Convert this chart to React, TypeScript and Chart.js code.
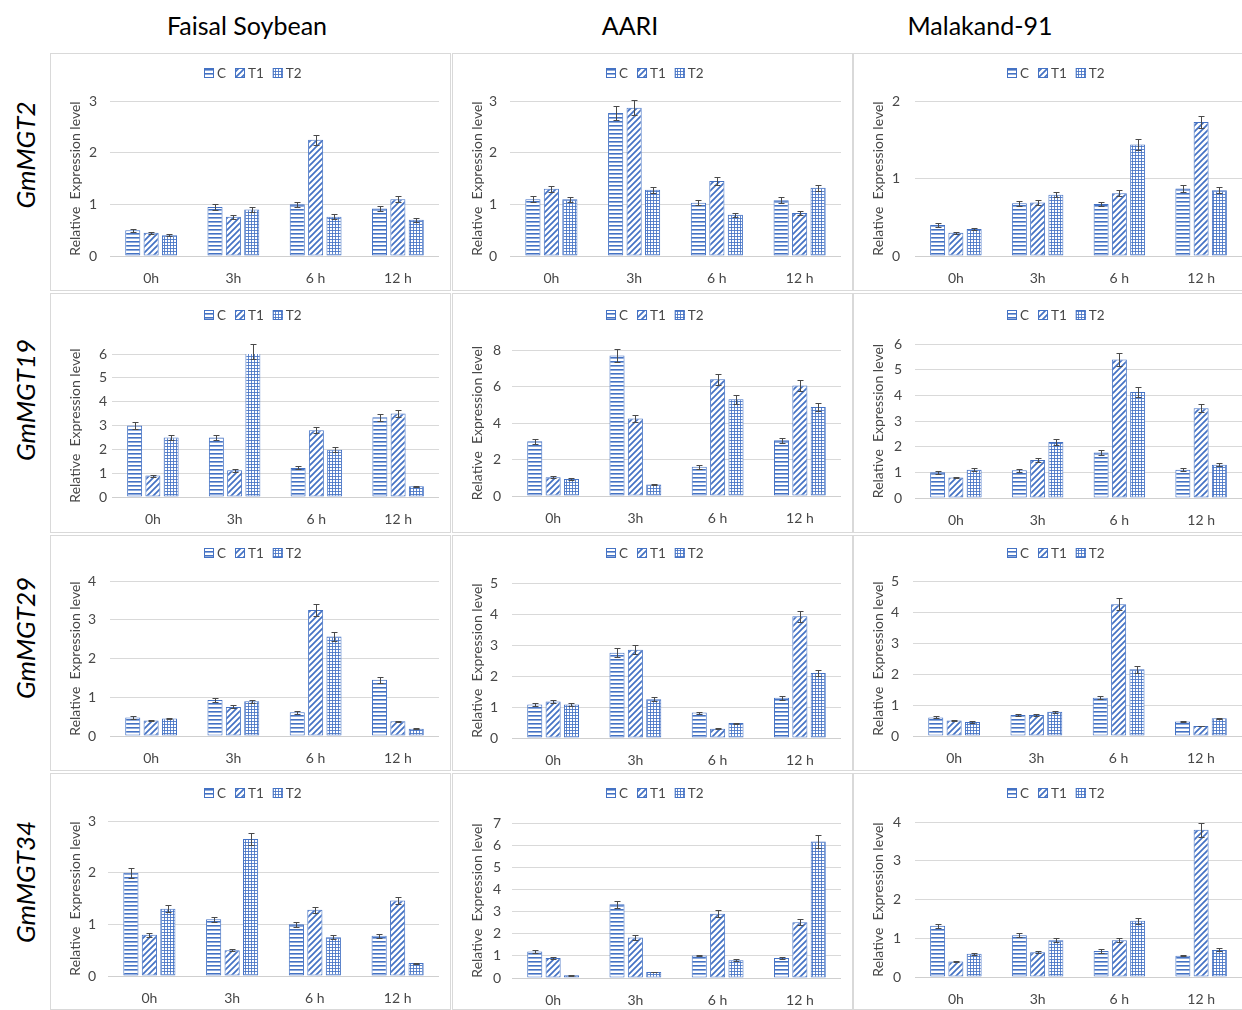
import React, { useEffect, useRef } from "react";
import { Chart, registerables } from "chart.js";
Chart.register(...registerables);

const cultivars = ["Faisal Soybean", "AARI", "Malakand-91"];
const genes = ["GmMGT2", "GmMGT19", "GmMGT29", "GmMGT34"];
const seriesNames = ["C", "T1", "T2"];
const timeLabels = ["0h", "3h", "6 h", "12 h"];
const yAxisTitle = "Relative  Expression level";

// values: [C, T1, T2] per time point
const mgt2FaisalValues = [[0.5, 0.95, 1.0, 0.92], [0.45, 0.76, 2.25, 1.1], [0.4, 0.9, 0.76, 0.7]];
const mgt2FaisalErrors = [[0.03, 0.05, 0.05, 0.04], [0.02, 0.04, 0.1, 0.06], [0.02, 0.05, 0.05, 0.04]];
const mgt2AariValues = [[1.1, 2.77, 1.03, 1.08], [1.3, 2.87, 1.45, 0.83], [1.1, 1.28, 0.8, 1.32]];
const mgt2AariErrors = [[0.06, 0.14, 0.05, 0.06], [0.06, 0.14, 0.07, 0.04], [0.05, 0.06, 0.04, 0.06]];
const mgt2MalakandValues = [[0.4, 0.68, 0.67, 0.87], [0.3, 0.69, 0.81, 1.73], [0.35, 0.79, 1.44, 0.85]];
const mgt2MalakandErrors = [[0.02, 0.03, 0.03, 0.04], [0.01, 0.03, 0.04, 0.08], [0.01, 0.03, 0.07, 0.04]];

const mgt19FaisalValues = [[3.0, 2.5, 1.22, 3.35], [0.9, 1.12, 2.8, 3.5], [2.5, 6.1, 1.98, 0.45]];
const mgt19FaisalErrors = [[0.15, 0.12, 0.06, 0.15], [0.04, 0.06, 0.12, 0.15], [0.12, 0.3, 0.1, 0.03]];
const mgt19AariValues = [[3.0, 7.7, 1.6, 3.05], [1.03, 4.25, 6.4, 6.05], [0.93, 0.63, 5.3, 4.88]];
const mgt19AariErrors = [[0.15, 0.35, 0.1, 0.15], [0.04, 0.2, 0.3, 0.3], [0.04, 0.03, 0.25, 0.2]];
const mgt19MalakandValues = [[1.0, 1.08, 1.77, 1.1], [0.8, 1.48, 5.4, 3.5], [1.1, 2.18, 4.13, 1.3]];
const mgt19MalakandErrors = [[0.05, 0.06, 0.1, 0.05], [0.03, 0.08, 0.25, 0.15], [0.06, 0.12, 0.2, 0.06]];

const mgt29FaisalValues = [[0.48, 0.93, 0.61, 1.45], [0.4, 0.75, 3.25, 0.38], [0.45, 0.9, 2.57, 0.19]];
const mgt29FaisalErrors = [[0.03, 0.05, 0.04, 0.07], [0.01, 0.04, 0.15, 0.02], [0.01, 0.04, 0.12, 0.01]];
const mgt29AariValues = [[1.08, 2.75, 0.82, 1.3], [1.18, 2.85, 0.3, 3.93], [1.08, 1.25, 0.48, 2.1]];
const mgt29AariErrors = [[0.06, 0.14, 0.03, 0.06], [0.05, 0.14, 0.01, 0.18], [0.05, 0.06, 0.02, 0.1]];
const mgt29MalakandValues = [[0.6, 0.68, 1.23, 0.47], [0.5, 0.68, 4.25, 0.32], [0.45, 0.78, 2.15, 0.57]];
const mgt29MalakandErrors = [[0.03, 0.03, 0.05, 0.02], [0.02, 0.03, 0.2, 0.01], [0.02, 0.04, 0.12, 0.02]];

const mgt34FaisalValues = [[2.0, 1.1, 1.0, 0.78], [0.8, 0.5, 1.28, 1.46], [1.3, 2.65, 0.75, 0.25]];
const mgt34FaisalErrors = [[0.1, 0.05, 0.05, 0.04], [0.04, 0.02, 0.06, 0.06], [0.07, 0.12, 0.04, 0.01]];
const mgt34AariValues = [[1.2, 3.33, 1.02, 0.9], [0.9, 1.83, 2.9, 2.52], [0.12, 0.27, 0.8, 6.17]];
const mgt34AariErrors = [[0.06, 0.17, 0.04, 0.04], [0.04, 0.1, 0.15, 0.13], [0.01, 0.02, 0.04, 0.3]];
const mgt34MalakandValues = [[1.32, 1.08, 0.67, 0.55], [0.4, 0.64, 0.95, 3.8], [0.6, 0.95, 1.45, 0.7]];
const mgt34MalakandErrors = [[0.06, 0.06, 0.04, 0.02], [0.02, 0.03, 0.05, 0.18], [0.03, 0.05, 0.07, 0.04]];

const panelValues = [
  [mgt2FaisalValues, mgt2AariValues, mgt2MalakandValues],
  [mgt19FaisalValues, mgt19AariValues, mgt19MalakandValues],
  [mgt29FaisalValues, mgt29AariValues, mgt29MalakandValues],
  [mgt34FaisalValues, mgt34AariValues, mgt34MalakandValues],
];
const panelErrors = [
  [mgt2FaisalErrors, mgt2AariErrors, mgt2MalakandErrors],
  [mgt19FaisalErrors, mgt19AariErrors, mgt19MalakandErrors],
  [mgt29FaisalErrors, mgt29AariErrors, mgt29MalakandErrors],
  [mgt34FaisalErrors, mgt34AariErrors, mgt34MalakandErrors],
];
const yMaxes = [[3, 3, 2], [6, 8, 6], [4, 5, 5], [3, 7, 4]];
const ySteps = [[1, 1, 1], [1, 2, 1], [1, 1, 1], [1, 1, 1]];

// ---- layout (positions / sizes) ----
const FONT = "Lato, 'Open Sans', sans-serif";
const BLUE = "#4472C4";
const TEXT_GRAY = "#474747";
const colLefts = [50, 452, 853];
const rowTops = [53, 293, 535, 773];
const rowHeights = [238, 240, 236, 237];
const legendYs = [20, 22, 18, 20];
const panelLayouts = [
  [{ t: 48, b: 203, l: 60, p: 13 }, { t: 48, b: 203, l: 58, p: 13 }, { t: 48, b: 203, l: 62, p: 15 }],
  [{ t: 61, b: 204, l: 62, p: 5 }, { t: 57, b: 203, l: 60, p: 11 }, { t: 51, b: 205, l: 62, p: 13 }],
  [{ t: 46, b: 201, l: 60, p: 14 }, { t: 48, b: 203, l: 60, p: 14 }, { t: 46, b: 201, l: 60, p: 14 }],
  [{ t: 48, b: 203, l: 58, p: 12 }, { t: 50, b: 205, l: 60, p: 11 }, { t: 49, b: 204, l: 62, p: 14 }],
];
const headerXs = [247, 630, 980];
const rowLabelYs = [155, 400, 638, 882];

function makePatterns(): CanvasPattern[] {
  const mk = (w: number, h: number, draw: (c: CanvasRenderingContext2D) => void) => {
    const cv = document.createElement("canvas");
    cv.width = w;
    cv.height = h;
    const c = cv.getContext("2d")!;
    c.fillStyle = "#ffffff";
    c.fillRect(0, 0, w, h);
    draw(c);
    return c.createPattern(cv, "repeat")!;
  };
  const horiz = mk(4, 4, (c) => {
    c.fillStyle = BLUE;
    c.fillRect(0, 0, 4, 1.6);
  });
  const diag = mk(6, 6, (c) => {
    c.strokeStyle = BLUE;
    c.lineWidth = 1.7;
    c.beginPath();
    c.moveTo(-1, 7);
    c.lineTo(7, -1);
    c.moveTo(-4, 4);
    c.lineTo(4, -4);
    c.moveTo(2, 10);
    c.lineTo(10, 2);
    c.stroke();
  });
  const grid = mk(3, 3, (c) => {
    c.fillStyle = BLUE;
    c.globalAlpha = 0.85;
    c.fillRect(0, 0, 3, 1);
    c.fillRect(0, 0, 1, 3);
  });
  return [horiz, diag, grid];
}

const errorBarPlugin = {
  id: "errorBars",
  afterDatasetsDraw(chart: any) {
    const ctx = chart.ctx;
    const ys = chart.scales.y;
    ctx.save();
    ctx.strokeStyle = "#4a4a4a";
    ctx.lineWidth = 1;
    chart.data.datasets.forEach((ds: any, i: number) => {
      const meta = chart.getDatasetMeta(i);
      meta.data.forEach((bar: any, j: number) => {
        const v = ds.data[j];
        const e = ds.errors[j];
        const x = Math.round(bar.x) + 0.5;
        const y1 = Math.round(ys.getPixelForValue(v + e)) + 0.5;
        const y2 = Math.round(ys.getPixelForValue(Math.max(0, v - e))) + 0.5;
        const cap = 3;
        ctx.beginPath();
        ctx.moveTo(x, y1);
        ctx.lineTo(x, y2);
        ctx.moveTo(x - cap, y1);
        ctx.lineTo(x + cap, y1);
        ctx.moveTo(x - cap, y2);
        ctx.lineTo(x + cap, y2);
        ctx.stroke();
      });
    });
    ctx.restore();
  },
};

const legendPlugin = {
  id: "patternLegend",
  afterDraw(chart: any, _args: any, opts: any) {
    const ctx = chart.ctx;
    ctx.save();
    ctx.font = `13.5px ${FONT}`;
    ctx.textBaseline = "middle";
    const box = 10;
    const gapText = 3;
    const gapItem = 9;
    const items = chart.data.datasets.map((ds: any) => ({
      label: ds.label,
      fill: ds.backgroundColor,
      w: ctx.measureText(ds.label).width,
    }));
    const total = items.reduce((s: number, it: any) => s + box + gapText + it.w, 0) + gapItem * (items.length - 1);
    let x = Math.round(opts.cx - total / 2);
    const cy = opts.cy;
    items.forEach((it: any) => {
      ctx.fillStyle = it.fill;
      ctx.fillRect(x, cy - box / 2, box, box);
      ctx.strokeStyle = BLUE;
      ctx.lineWidth = 1;
      ctx.strokeRect(x + 0.5, cy - box / 2 + 0.5, box - 1, box - 1);
      ctx.fillStyle = TEXT_GRAY;
      ctx.fillText(it.label, x + box + gapText, cy + 0.5);
      x += box + gapText + it.w + gapItem;
    });
    ctx.restore();
  },
};

function Panel(props: {
  left: number;
  top: number;
  height: number;
  values: number[][];
  errors: number[][];
  yMax: number;
  step: number;
  lay: { t: number; b: number; l: number; p: number };
  legendY: number;
}) {
  const ref = useRef<HTMLCanvasElement>(null);
  const W = 400;
  useEffect(() => {
    const pats = makePatterns();
    const { values, errors, yMax, step, lay, legendY, height } = props;
    const chart = new Chart(ref.current!, {
      type: "bar",
      data: {
        labels: timeLabels,
        datasets: seriesNames.map((name, i) => ({
          label: name,
          data: values[i],
          errors: errors[i],
          backgroundColor: pats[i],
          borderColor: BLUE,
          borderWidth: 1,
          borderSkipped: false,
          categoryPercentage: 0.67,
          barPercentage: 0.82,
        })) as any,
      },
      options: {
        animation: false,
        responsive: false,
        maintainAspectRatio: false,
        devicePixelRatio: 1,
        layout: { padding: { top: lay.t, left: 0, right: 11, bottom: 0 } },
        plugins: {
          legend: { display: false },
          tooltip: { enabled: false },
          patternLegend: { cx: 203, cy: legendY },
        } as any,
        scales: {
          x: {
            grid: { display: false },
            border: { display: false },
            ticks: { color: TEXT_GRAY, font: { family: FONT, size: 14 }, padding: 6, maxRotation: 0 },
            afterFit: (s: any) => {
              s.height = height - lay.b;
            },
          },
          y: {
            min: 0,
            max: yMax,
            grid: {
              color: (c: any) => (c.tick && c.tick.value === 0 ? "#cfcfcf" : "#d9d9d9"),
              drawTicks: false,
              lineWidth: 1,
            },
            border: { display: false },
            ticks: { stepSize: step, color: TEXT_GRAY, font: { family: FONT, size: 14 }, padding: lay.p },
            title: {
              display: true,
              text: yAxisTitle,
              color: TEXT_GRAY,
              font: { family: FONT, size: 14 },
              padding: { top: 17, bottom: 0 },
            },
            afterFit: (s: any) => {
              s.width = lay.l;
            },
          },
        },
      } as any,
      plugins: [errorBarPlugin, legendPlugin],
    });
    return () => chart.destroy();
  }, []);
  return (
    <>
      <div
        style={{
          position: "absolute",
          left: props.left,
          top: props.top,
          width: 401,
          height: props.height,
          border: "1px solid #d9d9d9",
          boxSizing: "border-box",
        }}
      />
      <canvas
        ref={ref}
        width={W}
        height={props.height}
        style={{ position: "absolute", left: props.left, top: props.top, width: W, height: props.height }}
      />
    </>
  );
}

export default function App() {
  return (
    <div
      style={{
        position: "absolute",
        left: 0,
        top: 0,
        width: 1242,
        height: 1010,
        overflow: "hidden",
        background: "#ffffff",
        fontFamily: FONT,
      }}
    >
      {cultivars.map((c, i) => (
        <div
          key={c}
          style={{
            position: "absolute",
            left: headerXs[i] - 150,
            top: 10,
            width: 300,
            textAlign: "center",
            fontSize: 25,
            lineHeight: "30px",
            color: "#000",
          }}
        >
          {c}
        </div>
      ))}
      {genes.map((g, r) => (
        <div
          key={g}
          style={{
            position: "absolute",
            left: 25 - 100,
            top: rowLabelYs[r] - 15,
            width: 200,
            height: 30,
            lineHeight: "30px",
            textAlign: "center",
            fontSize: 26,
            fontStyle: "italic",
            color: "#000",
            transform: "rotate(-90deg)",
          }}
        >
          {g}
        </div>
      ))}
      {genes.map((g, r) =>
        cultivars.map((c, ci) => (
          <Panel
            key={g + c}
            left={colLefts[ci]}
            top={rowTops[r]}
            height={rowHeights[r]}
            values={panelValues[r][ci]}
            errors={panelErrors[r][ci]}
            yMax={yMaxes[r][ci]}
            step={ySteps[r][ci]}
            lay={panelLayouts[r][ci]}
            legendY={legendYs[r]}
          />
        ))
      )}
    </div>
  );
}
